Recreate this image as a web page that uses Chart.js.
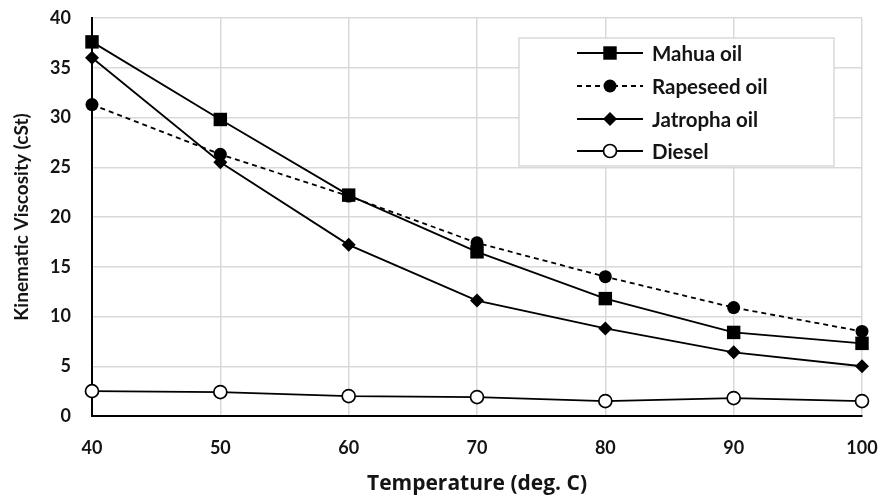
<!DOCTYPE html>
<html>
<head>
<meta charset="utf-8">
<script src="https://cdn.jsdelivr.net/npm/chart.js@4/dist/chart.umd.min.js"></script>
<style>
html,body{margin:0;padding:0;background:#fff;}
#wrap{width:883px;height:497px;position:relative;}
</style>
</head>
<body>
<div id="wrap"><canvas id="c" width="883" height="497"></canvas></div>
<script>
const temperatures = ['40','50','60','70','80','90','100'];
const mahuaOil     = [37.6, 29.8, 22.2, 16.5, 11.8, 8.4, 7.3];
const rapeseedOil  = [31.3, 26.3, 22.1, 17.4, 14.0, 10.9, 8.5];
const jatrophaOil  = [36.0, 25.5, 17.2, 11.6, 8.8, 6.4, 5.0];
const diesel       = [2.5, 2.4, 2.0, 1.9, 1.5, 1.8, 1.5];
const seriesNames  = ['Mahua oil', 'Rapeseed oil', 'Jatropha oil', 'Diesel'];
const yTicks       = [0, 5, 10, 15, 20, 25, 30, 35, 40];

const FONT = 'Lato, "Open Sans", sans-serif';
const INK = '#141414';
const LW = 1.8;

const datasets = [
  {label: seriesNames[0], data: mahuaOil, borderColor: '#000', borderWidth: LW,
   pointStyle: 'rect', pointRadius: 9.5, pointBackgroundColor: '#000', pointBorderColor: '#000', pointBorderWidth: 0},
  {label: seriesNames[1], data: rapeseedOil, borderColor: '#000', borderWidth: LW, borderDash: [5, 4],
   pointStyle: 'circle', pointRadius: 6.5, pointBackgroundColor: '#000', pointBorderColor: '#000', pointBorderWidth: 0},
  {label: seriesNames[2], data: jatrophaOil, borderColor: '#000', borderWidth: LW,
   pointStyle: 'rectRot', pointRadius: 7, pointBackgroundColor: '#000', pointBorderColor: '#000', pointBorderWidth: 0},
  {label: seriesNames[3], data: diesel, borderColor: '#000', borderWidth: LW,
   pointStyle: 'circle', pointRadius: 6.5, pointBackgroundColor: '#fff', pointBorderColor: '#000', pointBorderWidth: 1.7}
];
datasets.forEach((d, i) => { d.tension = 0; d.fill = false; d.pointHoverRadius = d.pointRadius; d.order = i + 1; d.clip = false; });

const legendPlugin = {
  id: 'boxLegend',
  afterDraw(chart) {
    const ctx = chart.ctx;
    const box = {x: 519, y: 38, w: 315, h: 128};
    ctx.save();
    ctx.fillStyle = '#fff';
    ctx.fillRect(box.x, box.y, box.w, box.h);
    ctx.strokeStyle = '#d9d9d9';
    ctx.lineWidth = 1.5;
    ctx.strokeRect(box.x, box.y, box.w, box.h);
    const rows = [53, 86, 119, 151];
    const x0 = 577, x1 = 643, xm = 610, tx = 652;
    chart.data.datasets.forEach((ds, i) => {
      const y = rows[i];
      ctx.strokeStyle = '#000';
      ctx.lineWidth = LW;
      ctx.setLineDash(ds.borderDash || []);
      ctx.beginPath(); ctx.moveTo(x0, y); ctx.lineTo(x1, y); ctx.stroke();
      ctx.setLineDash([]);
      ctx.fillStyle = ds.pointBackgroundColor;
      ctx.strokeStyle = ds.pointBorderColor;
      ctx.lineWidth = ds.pointBorderWidth || 0.01;
      Chart.helpers.drawPoint(ctx, {pointStyle: ds.pointStyle, rotation: 0, borderWidth: ds.pointBorderWidth || 0, radius: ds.pointRadius}, xm, y);
      ctx.fillStyle = INK;
      ctx.font = 'bold 20.5px ' + FONT;
      ctx.textBaseline = 'middle';
      ctx.textAlign = 'left';
      ctx.fillText(ds.label, tx, y + 1);
    });
    ctx.restore();
  }
};

new Chart(document.getElementById('c'), {
  type: 'line',
  data: {labels: temperatures, datasets},
  options: {
    responsive: false,
    animation: false,
    devicePixelRatio: 1,
    layout: {padding: {left: 0, right: 21, top: 18, bottom: 0}},
    plugins: {legend: {display: false}, tooltip: {enabled: false}},
    scales: {
      x: {
        type: 'category',
        offset: false,
        grid: {color: '#d9d9d9', lineWidth: 1.5, drawTicks: false},
        border: {color: '#000', width: 2},
        ticks: {color: INK, font: {family: FONT, size: 18, weight: 'bold'}, padding: 21, maxRotation: 0},
        title: {display: true, text: 'Temperature (deg. C)', color: INK,
                font: {family: '"Open Sans", Lato, sans-serif', size: 21, weight: 'bold'}, padding: {top: 8, bottom: 0}},
        afterFit(s) { s.height = 81; s.paddingLeft = 0; s.paddingRight = 0; }
      },
      y: {
        min: 0, max: 40,
        afterBuildTicks(s) { s.ticks = yTicks.map(v => ({value: v})); },
        grid: {color: '#d9d9d9', lineWidth: 1.5, drawTicks: false},
        border: {color: '#000', width: 2},
        ticks: {color: INK, font: {family: FONT, size: 18, weight: 'bold'}, padding: 21},
        title: {display: true, text: 'Kinematic Viscosity (cSt)', color: INK,
                font: {family: FONT, size: 19, weight: 'bold'}, padding: {top: 10, bottom: 6}},
        afterFit(s) { s.width = 92; s.paddingTop = 0; s.paddingBottom = 0; }
      }
    }
  },
  plugins: [legendPlugin]
});
</script>
</body>
</html>
